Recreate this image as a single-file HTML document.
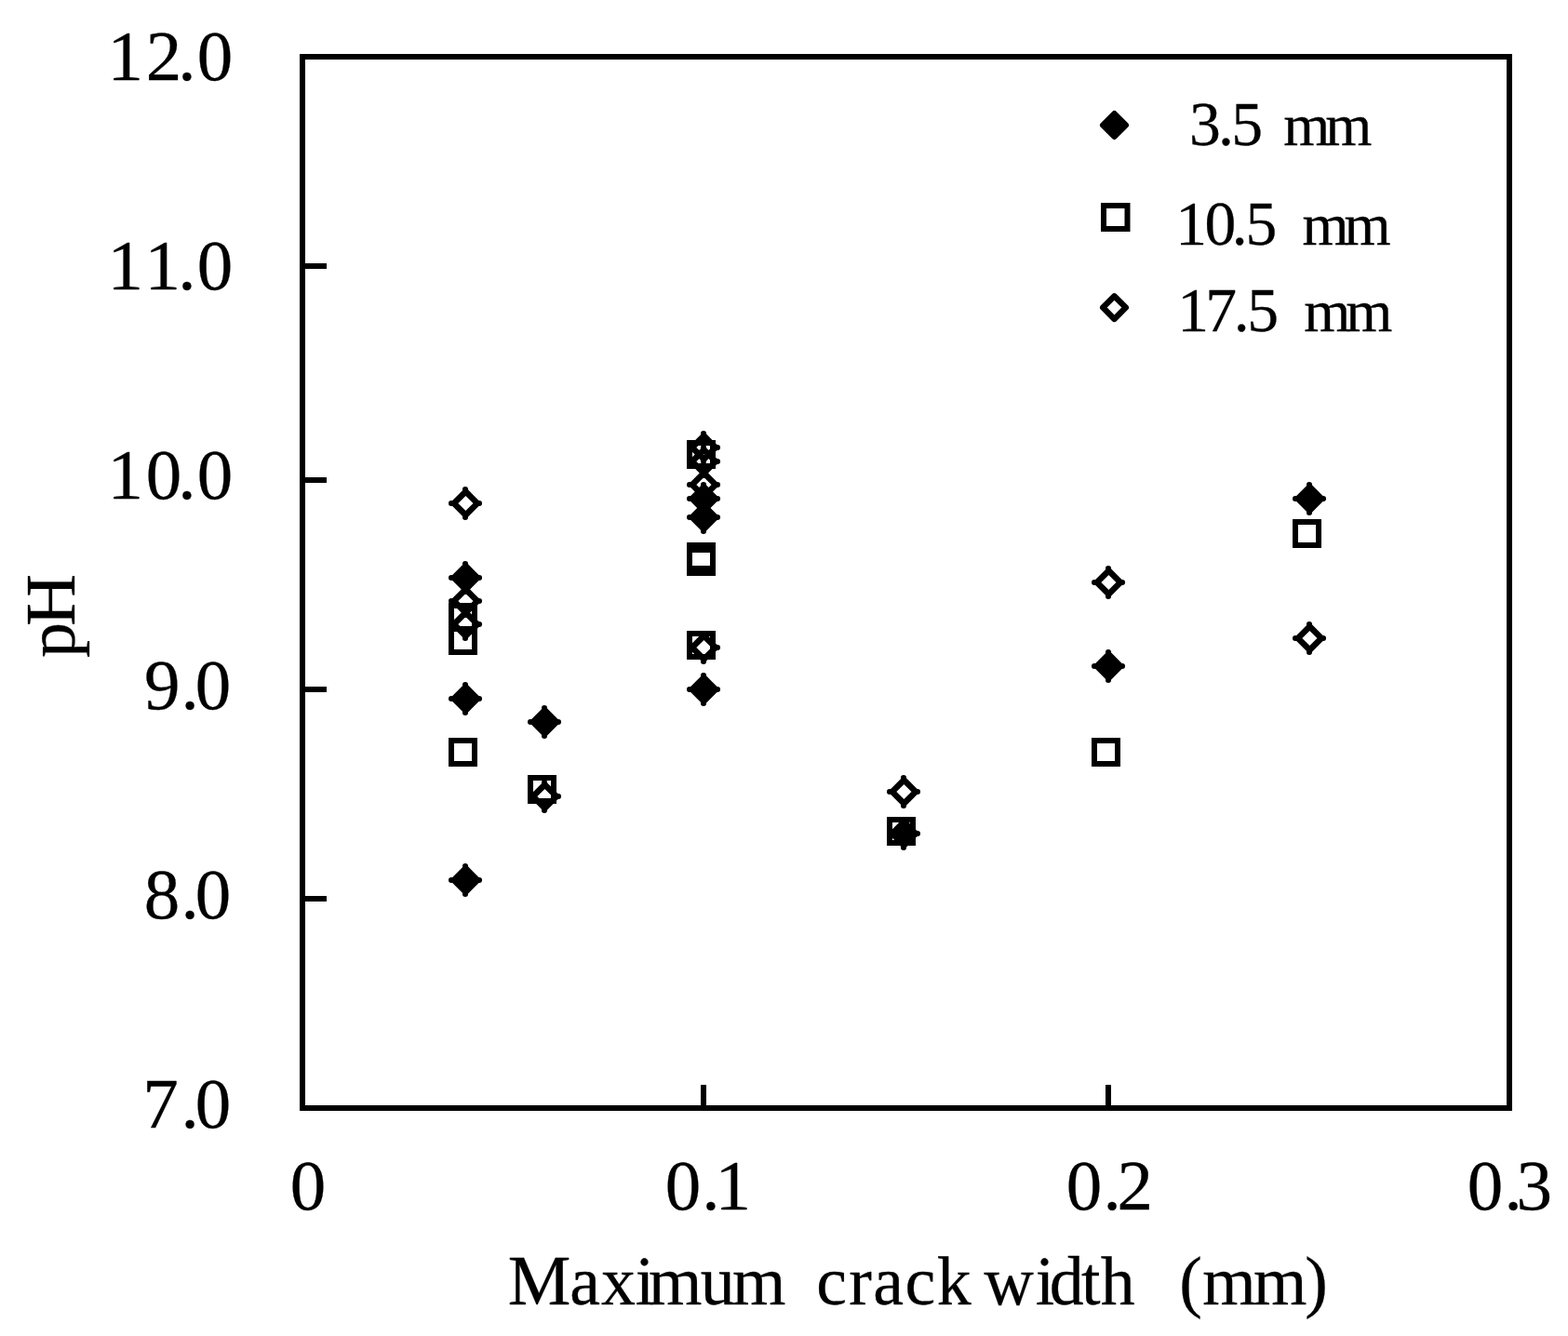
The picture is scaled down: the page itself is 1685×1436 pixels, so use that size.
<!DOCTYPE html>
<html lang="en">
<head>
<meta charset="utf-8">
<title>pH vs maximum crack width</title>
<style>
html,body{margin:0;padding:0;background:#fff;}
body{width:1685px;height:1436px;overflow:hidden;}
svg{display:block;}
text{font-family:"Liberation Serif", "Times New Roman", Times, serif;white-space:pre;fill:#000;stroke:#000;stroke-width:0.3px;stroke-linejoin:round;}
</style>
</head>
<body>
<svg width="1685" height="1436" viewBox="0 0 1685 1436">
<rect width="1685" height="1436" fill="#fff"/>
<g id="frame" shape-rendering="crispEdges">
<rect x="325" y="61" width="1297" height="1130" fill="none" stroke="#000" stroke-width="6"/>
<rect x="325" y="283" width="26" height="6"/><rect x="325" y="513" width="26" height="6"/><rect x="325" y="738" width="26" height="6"/><rect x="325" y="963" width="26" height="6"/><rect x="753" y="1166" width="6" height="25"/><rect x="1188" y="1166" width="6" height="25"/>
</g>
<g id="series-3_5mm">
<polygon points="500.4,608.4 513,621 500.4,633.6 487.8,621" fill="#000" stroke="#000" stroke-width="6.5" stroke-linejoin="miter"/><circle cx="500" cy="606" r="3.05"/><circle cx="515" cy="621" r="3.05"/><circle cx="500" cy="636" r="3.05"/><circle cx="485" cy="621" r="3.05"/>
<polygon points="500.4,738.4 513,751 500.4,763.6 487.8,751" fill="#000" stroke="#000" stroke-width="6.5" stroke-linejoin="miter"/><circle cx="500" cy="736" r="3.05"/><circle cx="515" cy="751" r="3.05"/><circle cx="500" cy="766" r="3.05"/><circle cx="485" cy="751" r="3.05"/>
<polygon points="500.4,933.4 513,946 500.4,958.6 487.8,946" fill="#000" stroke="#000" stroke-width="6.5" stroke-linejoin="miter"/><circle cx="500" cy="931" r="3.05"/><circle cx="515" cy="946" r="3.05"/><circle cx="500" cy="961" r="3.05"/><circle cx="485" cy="946" r="3.05"/>
<polygon points="585.4,763.4 598,776 585.4,788.6 572.8,776" fill="#000" stroke="#000" stroke-width="6.5" stroke-linejoin="miter"/><circle cx="585" cy="761" r="3.05"/><circle cx="600" cy="776" r="3.05"/><circle cx="585" cy="791" r="3.05"/><circle cx="570" cy="776" r="3.05"/>
<polygon points="756.4,523.4 769,536 756.4,548.6 743.8,536" fill="#000" stroke="#000" stroke-width="6.5" stroke-linejoin="miter"/><circle cx="756" cy="521" r="3.05"/><circle cx="771" cy="536" r="3.05"/><circle cx="756" cy="551" r="3.05"/><circle cx="741" cy="536" r="3.05"/>
<polygon points="756.4,543.4 769,556 756.4,568.6 743.8,556" fill="#000" stroke="#000" stroke-width="6.5" stroke-linejoin="miter"/><circle cx="756" cy="541" r="3.05"/><circle cx="771" cy="556" r="3.05"/><circle cx="756" cy="571" r="3.05"/><circle cx="741" cy="556" r="3.05"/>
<polygon points="756.4,728.4 769,741 756.4,753.6 743.8,741" fill="#000" stroke="#000" stroke-width="6.5" stroke-linejoin="miter"/><circle cx="756" cy="726" r="3.05"/><circle cx="771" cy="741" r="3.05"/><circle cx="756" cy="756" r="3.05"/><circle cx="741" cy="741" r="3.05"/>
<polygon points="971.4,883.4 984,896 971.4,908.6 958.8,896" fill="#000" stroke="#000" stroke-width="6.5" stroke-linejoin="miter"/><circle cx="971" cy="881" r="3.05"/><circle cx="986" cy="896" r="3.05"/><circle cx="971" cy="911" r="3.05"/><circle cx="956" cy="896" r="3.05"/>
<polygon points="1191.4,703.4 1204,716 1191.4,728.6 1178.8,716" fill="#000" stroke="#000" stroke-width="6.5" stroke-linejoin="miter"/><circle cx="1191" cy="701" r="3.05"/><circle cx="1206" cy="716" r="3.05"/><circle cx="1191" cy="731" r="3.05"/><circle cx="1176" cy="716" r="3.05"/>
<polygon points="1407.4,523.4 1420,536 1407.4,548.6 1394.8,536" fill="#000" stroke="#000" stroke-width="6.5" stroke-linejoin="miter"/><circle cx="1407" cy="521" r="3.05"/><circle cx="1422" cy="536" r="3.05"/><circle cx="1407" cy="551" r="3.05"/><circle cx="1392" cy="536" r="3.05"/>
</g>
<g id="series-10_5mm">
<rect x="485" y="651" width="25" height="25" fill="none" stroke="#000" stroke-width="6"/>
<rect x="485" y="676" width="25" height="25" fill="none" stroke="#000" stroke-width="6"/>
<rect x="485" y="796" width="25" height="25" fill="none" stroke="#000" stroke-width="6"/>
<rect x="570" y="836" width="25" height="25" fill="none" stroke="#000" stroke-width="6"/>
<rect x="741" y="476" width="25" height="25" fill="none" stroke="#000" stroke-width="6"/>
<rect x="741" y="586" width="25" height="25" fill="none" stroke="#000" stroke-width="6"/>
<rect x="741" y="591" width="25" height="25" fill="none" stroke="#000" stroke-width="6"/>
<rect x="741" y="681" width="25" height="25" fill="none" stroke="#000" stroke-width="6"/>
<rect x="956" y="881" width="25" height="25" fill="none" stroke="#000" stroke-width="6"/>
<rect x="1176" y="796" width="25" height="25" fill="none" stroke="#000" stroke-width="6"/>
<rect x="1392" y="561" width="25" height="25" fill="none" stroke="#000" stroke-width="6"/>
</g>
<g id="series-17_5mm">
<polygon points="500.4,528.4 513,541 500.4,553.6 487.8,541" fill="none" stroke="#000" stroke-width="6.5" stroke-linejoin="miter"/><circle cx="500" cy="526" r="3.05"/><circle cx="515" cy="541" r="3.05"/><circle cx="500" cy="556" r="3.05"/><circle cx="485" cy="541" r="3.05"/>
<polygon points="500.4,633.4 513,646 500.4,658.6 487.8,646" fill="none" stroke="#000" stroke-width="6.5" stroke-linejoin="miter"/><circle cx="500" cy="631" r="3.05"/><circle cx="515" cy="646" r="3.05"/><circle cx="500" cy="661" r="3.05"/><circle cx="485" cy="646" r="3.05"/>
<polygon points="500.4,658.4 513,671 500.4,683.6 487.8,671" fill="none" stroke="#000" stroke-width="6.5" stroke-linejoin="miter"/><circle cx="500" cy="656" r="3.05"/><circle cx="515" cy="671" r="3.05"/><circle cx="500" cy="686" r="3.05"/><circle cx="485" cy="671" r="3.05"/>
<polygon points="585.4,843.4 598,856 585.4,868.6 572.8,856" fill="none" stroke="#000" stroke-width="6.5" stroke-linejoin="miter"/><circle cx="585" cy="841" r="3.05"/><circle cx="600" cy="856" r="3.05"/><circle cx="585" cy="871" r="3.05"/><circle cx="570" cy="856" r="3.05"/>
<polygon points="756.4,468.4 769,481 756.4,493.6 743.8,481" fill="none" stroke="#000" stroke-width="6.5" stroke-linejoin="miter"/><circle cx="756" cy="466" r="3.05"/><circle cx="771" cy="481" r="3.05"/><circle cx="756" cy="496" r="3.05"/><circle cx="741" cy="481" r="3.05"/>
<polygon points="756.4,483.4 769,496 756.4,508.6 743.8,496" fill="none" stroke="#000" stroke-width="6.5" stroke-linejoin="miter"/><circle cx="756" cy="481" r="3.05"/><circle cx="771" cy="496" r="3.05"/><circle cx="756" cy="511" r="3.05"/><circle cx="741" cy="496" r="3.05"/>
<polygon points="756.4,508.4 769,521 756.4,533.6 743.8,521" fill="none" stroke="#000" stroke-width="6.5" stroke-linejoin="miter"/><circle cx="756" cy="506" r="3.05"/><circle cx="771" cy="521" r="3.05"/><circle cx="756" cy="536" r="3.05"/><circle cx="741" cy="521" r="3.05"/>
<polygon points="756.4,683.4 769,696 756.4,708.6 743.8,696" fill="none" stroke="#000" stroke-width="6.5" stroke-linejoin="miter"/><circle cx="756" cy="681" r="3.05"/><circle cx="771" cy="696" r="3.05"/><circle cx="756" cy="711" r="3.05"/><circle cx="741" cy="696" r="3.05"/>
<polygon points="971.4,838.4 984,851 971.4,863.6 958.8,851" fill="none" stroke="#000" stroke-width="6.5" stroke-linejoin="miter"/><circle cx="971" cy="836" r="3.05"/><circle cx="986" cy="851" r="3.05"/><circle cx="971" cy="866" r="3.05"/><circle cx="956" cy="851" r="3.05"/>
<polygon points="1191.4,613.4 1204,626 1191.4,638.6 1178.8,626" fill="none" stroke="#000" stroke-width="6.5" stroke-linejoin="miter"/><circle cx="1191" cy="611" r="3.05"/><circle cx="1206" cy="626" r="3.05"/><circle cx="1191" cy="641" r="3.05"/><circle cx="1176" cy="626" r="3.05"/>
<polygon points="1407.4,673.4 1420,686 1407.4,698.6 1394.8,686" fill="none" stroke="#000" stroke-width="6.5" stroke-linejoin="miter"/><circle cx="1407" cy="671" r="3.05"/><circle cx="1422" cy="686" r="3.05"/><circle cx="1407" cy="701" r="3.05"/><circle cx="1392" cy="686" r="3.05"/>
</g>
<g id="legend-markers">
<polygon points="1197.5,122.15 1209.8,134.45 1197.5,146.75 1185.2,134.45" fill="#000" stroke="#000" stroke-width="6.4" stroke-linejoin="round"/>
<rect x="1186" y="221" width="25.5" height="25" fill="none" stroke="#000" stroke-width="6"/>
<polygon points="1197.5,318.3 1209.8,330.6 1197.5,342.9 1185.2,330.6" fill="none" stroke="#000" stroke-width="6.4" stroke-linejoin="round"/>
</g>
<g id="labels">
<text id="y12" x="115.48 156.68 191.28 211.75" y="86" font-size="77" xml:space="preserve">12.0</text>
<text id="y11" x="115.48 155.58 191.28 211.75" y="311" font-size="77" xml:space="preserve">11.0</text>
<text id="y10" x="115.48 156.65 191.28 211.75" y="536" font-size="77" xml:space="preserve">10.0</text>
<text id="y9" x="154.99 194.38 209.75" y="762" font-size="77" xml:space="preserve">9.0</text>
<text id="y8" x="154.85 194.38 209.75" y="987" font-size="77" xml:space="preserve">8.0</text>
<text id="y7" x="153.22 194.38 209.75" y="1212" font-size="77" xml:space="preserve">7.0</text>
<text id="x0" x="311.75" y="1300" font-size="77" xml:space="preserve">0</text>
<text id="x1" x="714.75 754.27 768.58" y="1300" font-size="77" xml:space="preserve">0.1</text>
<text id="x2" x="1145.65 1185.38 1200.58" y="1300" font-size="77" xml:space="preserve">0.2</text>
<text id="x3" x="1576.75 1616.38 1629.41" y="1300" font-size="77" xml:space="preserve">0.3</text>
<text id="xtitle" x="545.78 612.33 646.08 682.68 697.05 752.64 787.1 844.5 877.3 912.3 938.18 972.4 1006.85 1043.75 1057.53 1112.63 1127.72 1162.1 1182.83 1219.73 1267.28 1292.35 1347.05 1402.14" y="1401.8" font-size="73.8" xml:space="preserve"><tspan font-size="76">M</tspan>aximum crack width (mm)</text>
<text id="leg1" x="1277.9 1309.05 1323.36 1357.16 1379.18 1424.28" y="156.1" font-size="67.6" xml:space="preserve">3.5 <tspan font-size="64.4">mm</tspan></text>
<text id="leg2" x="1263.36 1294.4 1323.85 1338.46 1372.26 1399.38 1444.38" y="263" font-size="67.6" xml:space="preserve">10.5 <tspan font-size="64.4">mm</tspan></text>
<text id="leg3" x="1265.16 1295.15 1325.85 1340.36 1374.16 1401.28 1446.18" y="356" font-size="67.6" xml:space="preserve">17.5 <tspan font-size="64.4">mm</tspan></text>
<text id="ytitle" x="-686.46 -653.44" y="0" font-size="73.9" transform="translate(80 0) rotate(-90) scale(1.03 1)" xml:space="preserve">p<tspan font-size="75.6">H</tspan></text>
</g>
</svg>
</body>
</html>
